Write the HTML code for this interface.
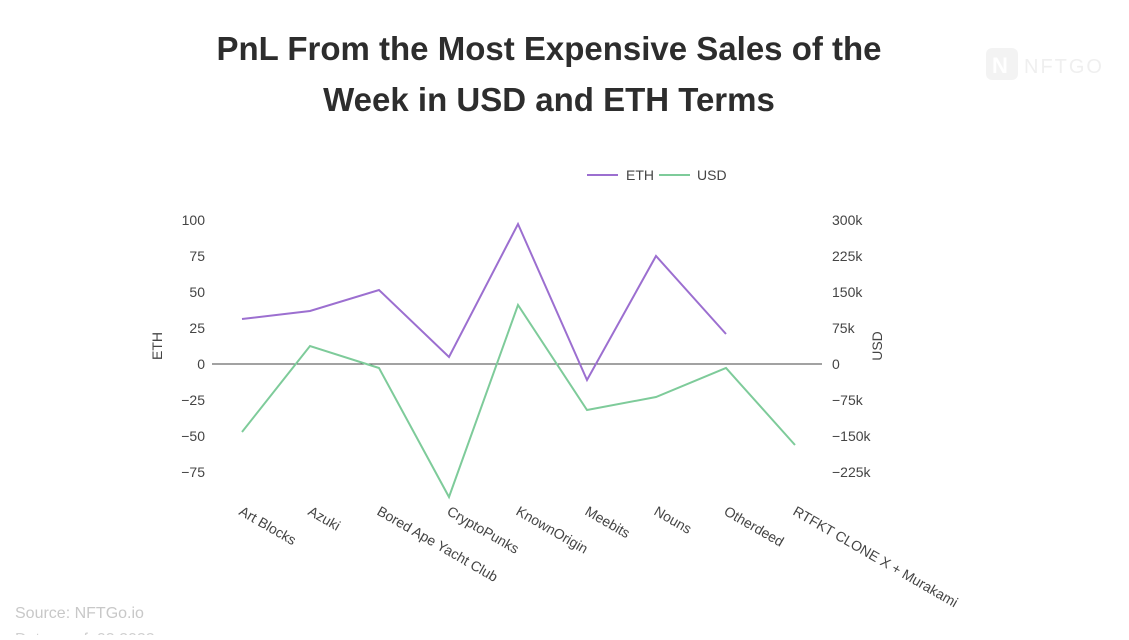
<!DOCTYPE html>
<html><head><meta charset="utf-8"><style>
body{margin:0;background:#fff;width:1129px;height:635px;overflow:hidden;font-family:"Liberation Sans",sans-serif}
</style></head><body>
<svg width="1129" height="635" xmlns="http://www.w3.org/2000/svg" font-family="Liberation Sans, sans-serif">
<text x="549" y="60" text-anchor="middle" font-size="33" font-weight="bold" fill="#2d2d2d">PnL From the Most Expensive Sales of the</text>
<text x="549" y="111" text-anchor="middle" font-size="33" font-weight="bold" fill="#2d2d2d">Week in USD and ETH Terms</text>
<g opacity="0.8">
<rect x="986" y="48" width="32" height="32" rx="6" fill="#f1f1f1"/>
<text x="992" y="73" font-size="22" font-weight="bold" fill="#fff">N</text>
<text x="1024" y="73" font-size="20" fill="#ececec" letter-spacing="2">NFTGO</text>
</g>
<line x1="587" y1="175" x2="618" y2="175" stroke="#9c6fd0" stroke-width="2"/>
<text x="626" y="180" font-size="14" fill="#444">ETH</text>
<line x1="659" y1="175" x2="690" y2="175" stroke="#7ecb9a" stroke-width="2"/>
<text x="697" y="180" font-size="14" fill="#444">USD</text>
<g font-size="14" fill="#444" text-anchor="end">
<text x="205" y="225">100</text><text x="205" y="261">75</text><text x="205" y="297">50</text><text x="205" y="333">25</text><text x="205" y="369">0</text><text x="205" y="405">−25</text><text x="205" y="441">−50</text><text x="205" y="477">−75</text>
</g>
<g font-size="14" fill="#444">
<text x="832" y="225">300k</text><text x="832" y="261">225k</text><text x="832" y="297">150k</text><text x="832" y="333">75k</text><text x="832" y="369">0</text><text x="832" y="405">−75k</text><text x="832" y="441">−150k</text><text x="832" y="477">−225k</text>
</g>
<text transform="translate(162,346) rotate(-90)" font-size="14" fill="#444" text-anchor="middle">ETH</text>
<text transform="translate(882,346) rotate(-90)" font-size="14" fill="#444" text-anchor="middle">USD</text>
<line x1="212" y1="364" x2="822" y2="364" stroke="#444" stroke-width="1"/>
<polyline fill="none" stroke="#9c6fd0" stroke-width="2" points="242,319 310,311 379,290 449,357 518,224 587,380 656,256 726,334"/>
<polyline fill="none" stroke="#7ecb9a" stroke-width="2" points="242,432 310,346 379,368 449,497 518,305 587,410 656,397 726,368 795,445"/>
<g font-size="14" fill="#444">
<text transform="translate(238,514) rotate(30)">Art Blocks</text>
<text transform="translate(307,514) rotate(30)">Azuki</text>
<text transform="translate(376,514) rotate(30)">Bored Ape Yacht Club</text>
<text transform="translate(446,514) rotate(30)">CryptoPunks</text>
<text transform="translate(515,514) rotate(30)">KnownOrigin</text>
<text transform="translate(584,514) rotate(30)">Meebits</text>
<text transform="translate(653,514) rotate(30)">Nouns</text>
<text transform="translate(723,514) rotate(30)">Otherdeed</text>
<text transform="translate(792,514) rotate(30)">RTFKT CLONE X + Murakami</text>
</g>
<text x="15" y="618" font-size="16" fill="#c8c8c8">Source: NFTGo.io</text>
<text x="15" y="644" font-size="16" fill="#d0d0d0">Data as of: 03.2022</text>
</svg>
</body></html>
